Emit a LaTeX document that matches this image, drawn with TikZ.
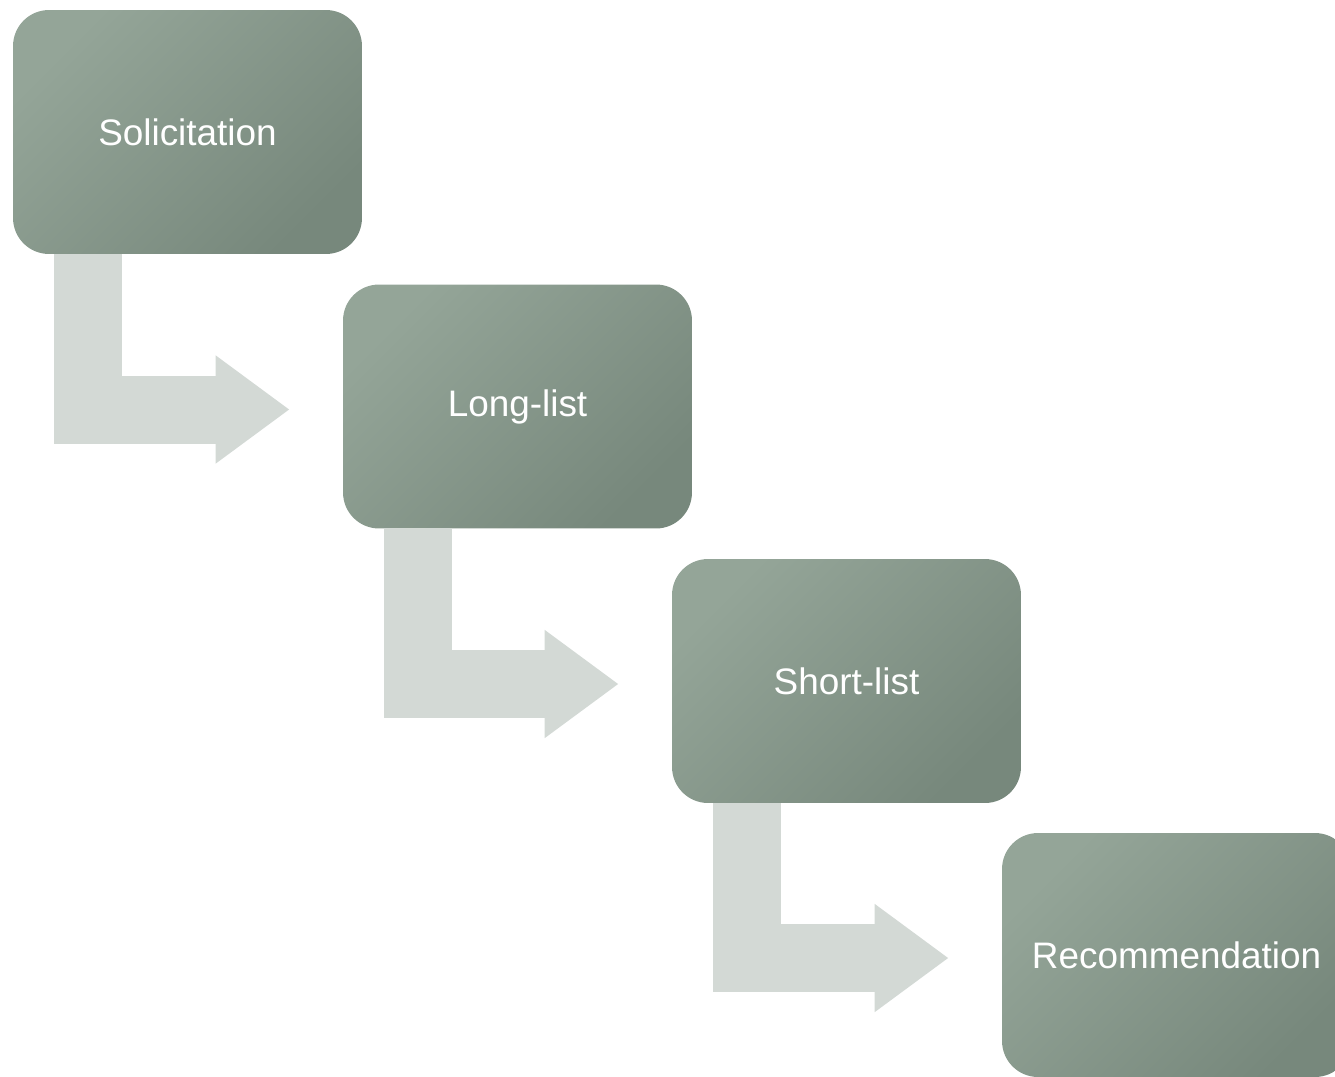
\documentclass[tikz,border=0pt]{standalone}
\usepackage{fontspec}
\setmainfont{Liberation Sans}
\usetikzlibrary{arrows.meta}
\definecolor{boxlight}{HTML}{94A598}
\definecolor{boxdark}{HTML}{77887C}
\definecolor{flowgray}{HTML}{D3D9D5}
\begin{document}
\begin{tikzpicture}[x=0.02cm,y=-0.02cm]
  \tikzset{
    stagebox/.style={rounded corners=0.72cm,minimum width=6.98cm,minimum height=4.88cm,
      top color=boxlight,bottom color=boxdark,shading angle=45,
      text=white,font=\fontsize{21pt}{25pt}\selectfont},
    flowarrow/.style={draw=flowgray,line width=1.36cm,line join=miter,
      -{Triangle[length=1.48cm,width=2.06cm]},shorten >=1.06cm}
  }
  \useasboundingbox (0,0) rectangle (1335,1076);
  \node[stagebox] (solicit) at (187.5,132) {Solicitation};
  \node[stagebox] (longlist) at (517.5,406.5) {Long-list};
  \node[stagebox] (shortlist) at (846.5,681) {Short-list};
  \node[stagebox] (recommend) at (1176.5,955) {Recommendation};
  \draw[flowarrow] ([xshift=-1.99cm]solicit.south) |- ([yshift=-0.06cm]longlist.west);
  \draw[flowarrow] ([xshift=-1.99cm]longlist.south) |- ([yshift=-0.06cm]shortlist.west);
  \draw[flowarrow] ([xshift=-1.99cm]shortlist.south) |- ([yshift=-0.06cm]recommend.west);
\end{tikzpicture}
\end{document}
